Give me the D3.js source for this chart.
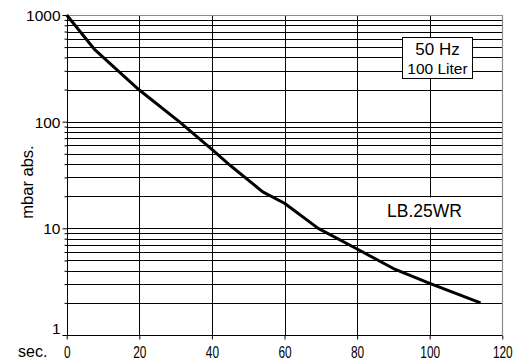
<!DOCTYPE html>
<html>
<head>
<meta charset="utf-8">
<script src="https://cdn.jsdelivr.net/npm/d3@7"></script>
<style>
  body { margin: 0; background: #fff; }
  svg { display: block; font-family: "Liberation Sans", Arial, sans-serif; }
</style>
</head>
<body>
<svg id="chart" width="517" height="363"></svg>
<script>
/* Pump-down curve values */
var seconds  = [0, 7.8, 20, 31, 40, 45, 54, 60, 69.3, 80, 90, 100, 114];
var pressure = [1000, 470, 198, 100, 55, 39, 22, 17.2, 10, 6.4, 4.2, 3.05, 2.0];

var xTicks = [0, 20, 40, 60, 80, 100, 120];
var yLabels = [1, 10, 100, 1000];
var boxLines = ["50 Hz", "100 Liter"];
var modelName = "LB.25WR";

// plot area edges (note: "top" is taken by window.top, so use other names)
var plotLeft = 66.7, plotRight = 502.3, plotTop = 15, plotBottom = 335;

var x = d3.scaleLinear().domain([0, 120]).range([plotLeft, plotRight]);
var y = d3.scaleLog().domain([1, 1000]).range([plotBottom, plotTop]);

var svg = d3.select("#chart");

// every log step between 1 and 1000 (2..9, 20..90, 200..900 and the decades)
var logTicks = y.ticks();

// horizontal grid
svg.append("g").selectAll("line")
    .data(logTicks.filter(function(v) { return v > 1 && v < 1000; }))
    .enter().append("line")
    .attr("x1", plotLeft).attr("x2", plotRight)
    .attr("y1", function(v) { return Math.round(y(v)) + 0.5; })
    .attr("y2", function(v) { return Math.round(y(v)) + 0.5; })
    .attr("stroke", "#000").attr("stroke-width", 1);

// vertical grid
svg.append("g").selectAll("line")
    .data(xTicks.filter(function(v) { return v > 0 && v < 120; }))
    .enter().append("line")
    .attr("x1", function(v) { return Math.round(x(v)) + 0.5; })
    .attr("x2", function(v) { return Math.round(x(v)) + 0.5; })
    .attr("y1", plotTop).attr("y2", plotBottom)
    .attr("stroke", "#000").attr("stroke-width", 1);

// grey frame at top and right
svg.append("path")
    .attr("d", "M" + plotLeft + "," + (plotTop + 0.5) + "H" + (Math.round(plotRight) + 0.5) + "V" + plotBottom)
    .attr("fill", "none").attr("stroke", "#8c8c8c").attr("stroke-width", 1.2);

// white patch behind the model name
svg.append("rect")
    .attr("x", 380).attr("y", 197.5).attr("width", 92).attr("height", 30)
    .attr("fill", "#fff");

// curve
var line = d3.line()
    .x(function(d, i) { return x(seconds[i]); })
    .y(function(d) { return y(d); });

svg.append("path")
    .datum(pressure)
    .attr("d", line)
    .attr("fill", "none")
    .attr("stroke", "#000")
    .attr("stroke-width", 3)
    .attr("stroke-linejoin", "round");

// y axis
var yAxis = svg.append("g")
    .attr("transform", "translate(" + (Math.round(plotLeft) + 0.5) + ",0)")
    .call(d3.axisLeft(y)
        .tickValues(logTicks)
        .tickSize(4)
        .tickPadding(3)
        .tickFormat(function(v) { return yLabels.indexOf(v) >= 0 ? v : ""; }));
yAxis.select(".domain").attr("stroke", "#000").attr("d", "M0," + plotTop + "V" + plotBottom);
yAxis.selectAll(".tick line").attr("stroke", "#000")
    .attr("x2", function(v) { return yLabels.indexOf(v) >= 0 ? -5 : -3; });
yAxis.selectAll(".tick text")
    .attr("font-size", 15.5).attr("fill", "#000")
    .attr("font-family", "Liberation Sans, Arial, sans-serif")
    .attr("dy", function(v) { return v === 1 ? "-0.1em" : "0.35em"; });

// x axis
var xAxis = svg.append("g")
    .attr("transform", "translate(0," + (Math.round(plotBottom) + 0.5) + ")")
    .call(d3.axisBottom(x).tickValues(xTicks).tickSize(4).tickPadding(7));
xAxis.select(".domain").attr("stroke", "#000").attr("d", "M" + plotLeft + ",0H" + plotRight);
xAxis.selectAll(".tick line").attr("stroke", "#000");
xAxis.selectAll(".tick text")
    .attr("font-size", 16.5).attr("fill", "#000")
    .attr("font-family", "Liberation Sans, Arial, sans-serif")
    .attr("transform", "scale(0.72,1)");

// axis titles
svg.append("text")
    .attr("transform", "translate(33,182) rotate(-90)")
    .attr("text-anchor", "middle")
    .attr("font-size", 16.5)
    .text("mbar abs.");

svg.append("text")
    .attr("x", 18).attr("y", 357)
    .attr("font-size", 16)
    .text("sec.");

// legend box
svg.append("rect")
    .attr("x", 402.5).attr("y", 37.5).attr("width", 70).attr("height", 41)
    .attr("fill", "#fff").attr("stroke", "#000").attr("stroke-width", 1);

svg.append("text")
    .attr("x", 437.5).attr("y", 55)
    .attr("text-anchor", "middle").attr("font-size", 17)
    .text(boxLines[0]);
svg.append("text")
    .attr("x", 437.5).attr("y", 74)
    .attr("text-anchor", "middle").attr("font-size", 15.5)
    .text(boxLines[1]);

svg.append("text")
    .attr("x", 424.5).attr("y", 217)
    .attr("text-anchor", "middle").attr("font-size", 17.5)
    .text(modelName);
</script>
</body>
</html>
